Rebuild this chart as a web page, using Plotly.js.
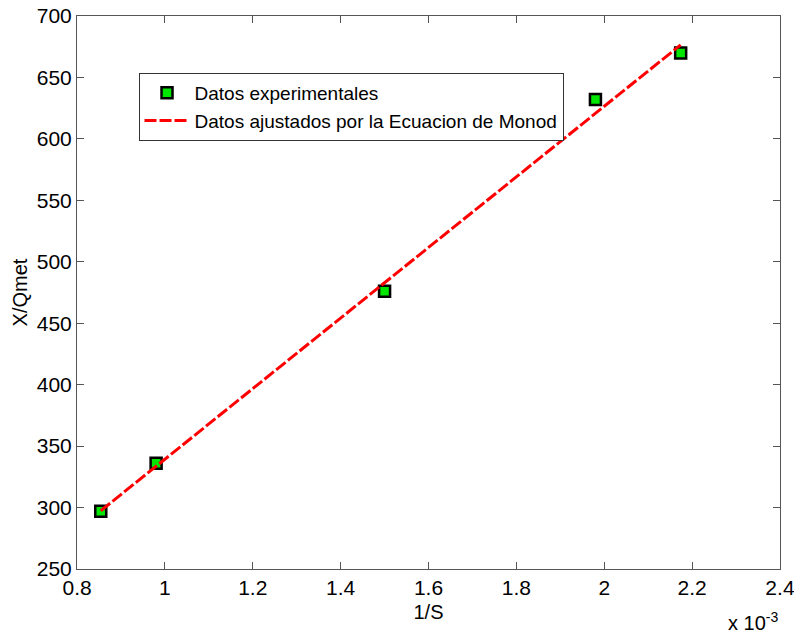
<!DOCTYPE html>
<html>
<head>
<meta charset="utf-8">
<script src="https://cdn.plot.ly/plotly-3.0.1.min.js"></script>
<style>html,body{margin:0;padding:0;background:#fff;}#chart{width:794px;height:634px;}</style>
</head>
<body>
<div id="chart"></div>
<script>
// 1/S values shown in units of 1e-3
const invS = [0.854, 0.98, 1.5, 1.98, 2.174];
const xQmet = [297, 336, 476, 632, 670];
const fitX = [0.854, 0.98, 1.5, 1.98, 2.174];
const fitY = [297.4, 333.6, 482.9, 620.8, 676.5];
const xTicks = [0.8, 1, 1.2, 1.4, 1.6, 1.8, 2, 2.2, 2.4];
const yTicks = [250, 300, 350, 400, 450, 500, 550, 600, 650, 700];

const font = 'Arial, "Liberation Sans", Helvetica, sans-serif';

const traces = [
  {
    x: invS, y: xQmet, type: 'scatter', mode: 'markers',
    name: 'Datos experimentales',
    marker: {symbol: 'square', size: 11, color: '#00e600', line: {color: '#000', width: 2.5}}
  },
  {
    x: fitX, y: fitY, type: 'scatter', mode: 'lines',
    name: 'Datos ajustados por la Ecuacion de Monod',
    line: {color: '#ff0000', width: 3, dash: '12px,3px'}
  }
];

const axisCommon = {
  showgrid: false, zeroline: false, showline: true, linecolor: '#555', linewidth: 1,
  ticks: 'inside', ticklen: 7, tickcolor: '#555', tickwidth: 1, mirror: 'ticks',
  tickfont: {family: font, size: 21, color: '#000'}, ticklabeloverflow: 'allow'
};

const layout = {
  width: 794, height: 634,
  margin: {l: 77, r: 14, t: 16, b: 65},
  paper_bgcolor: '#fff', plot_bgcolor: '#fff',
  showlegend: true,
  legend: {
    x: 0.0875, y: 0.897, xanchor: 'left', yanchor: 'top',
    bordercolor: '#333', borderwidth: 1, bgcolor: '#fff',
    font: {family: font, size: 19, color: '#000'},
    itemwidth: 45, tracegroupgap: 0
  },
  xaxis: Object.assign({}, axisCommon, {
    range: [0.7999, 2.4001], tickvals: xTicks, ticktext: xTicks.map(String),
    title: {text: '1/S', font: {family: font, size: 20, color: '#000'}, standoff: 6}
  }),
  yaxis: Object.assign({}, axisCommon, {
    range: [249.98, 700.02], tickvals: yTicks,
    title: {text: 'X/Qmet', font: {family: font, size: 20, color: '#000'}, standoff: 3}
  }),
  annotations: [{
    xref: 'paper', yref: 'paper', x: 1.0, y: -0.095, xanchor: 'right', yanchor: 'middle',
    text: 'x 10<sup>-3</sup>', showarrow: false,
    font: {family: font, size: 20, color: '#000'}
  }]
};

Plotly.newPlot('chart', traces, layout, {displayModeBar: false, staticPlot: true});
</script>
</body>
</html>
